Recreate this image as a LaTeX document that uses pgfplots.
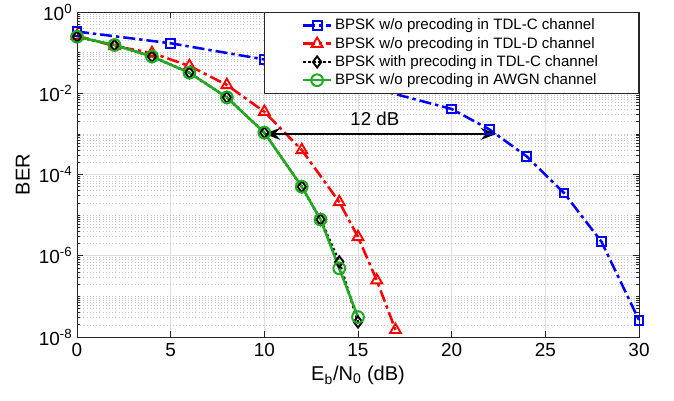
\documentclass[border=0pt]{standalone}
\usepackage{fontspec}
\setmainfont{Liberation Sans}
\usepackage{pgfplots}
\pgfplotsset{compat=1.18}
\usetikzlibrary{arrows.meta}

\definecolor{mgreen}{RGB}{32,170,32}
\definecolor{axgray}{RGB}{38,38,38}

\newcommand{\tfont}{\fontsize{14.2}{17}\selectfont}
\newcommand{\lfont}{\fontsize{15}{18}\selectfont}
\newcommand{\tenpow}[1]{10\textsuperscript{#1}}

\begin{document}
\begin{tikzpicture}
\useasboundingbox (-57.75pt,-47.25pt) rectangle (447.75pt,252.75pt);
\begin{semilogyaxis}[
    at={(0,0)}, anchor=south west,
    scale only axis,
    width=421.5pt, height=243.75pt,
    xmin=0, xmax=30,
    ymin=1e-8, ymax=1,
    xtick={0,5,...,30},
    ytick={1e-8,1e-6,1e-4,1e-2,1},
    yticklabels={\tenpow{-8},\tenpow{-6},\tenpow{-4},\tenpow{-2},\tenpow{0}},
    minor ytick={2e-8,3e-8,4e-8,5e-8,6e-8,7e-8,8e-8,9e-8,1e-7,
                 2e-7,3e-7,4e-7,5e-7,6e-7,7e-7,8e-7,9e-7,
                 2e-6,3e-6,4e-6,5e-6,6e-6,7e-6,8e-6,9e-6,1e-5,
                 2e-5,3e-5,4e-5,5e-5,6e-5,7e-5,8e-5,9e-5,
                 2e-4,3e-4,4e-4,5e-4,6e-4,7e-4,8e-4,9e-4,1e-3,
                 2e-3,3e-3,4e-3,5e-3,6e-3,7e-3,8e-3,9e-3,
                 2e-2,3e-2,4e-2,5e-2,6e-2,7e-2,8e-2,9e-2,1e-1,
                 2e-1,3e-1,4e-1,5e-1,6e-1,7e-1,8e-1,9e-1},
    /pgf/number format/assume math mode=true,
    tick label style={font=\tfont, text=black},
    xticklabel style={yshift=-1.5pt},
    label style={font=\lfont},
    xlabel={E\textsubscript{b}/N\textsubscript{0} (dB)},
    ylabel={BER},
    grid=both,
    major grid style={gray!25, line width=0.4pt},
    minor grid style={gray!45, dotted, line width=0.4pt},
    axis line style={axgray, line width=0.6pt},
    tick style={axgray, line width=0.5pt},
    major tick length=4.5pt,
    minor tick length=2.5pt,
    clip=false,
    legend style={
        at={(rel axis cs:1,1)}, anchor=north east,
        draw=axgray, line width=0.5pt, fill=white,
        font=\fontsize{11.3}{13}\selectfont,
        inner xsep=28.5pt, inner ysep=3pt,
        row sep=0pt,
        /tikz/every even column/.append style={column sep=2pt},
    },
    legend cell align=left,
    legend image code/.code={\draw[mark repeat=2,mark phase=2,#1] plot coordinates {(0pt,0pt) (10.5pt,0pt) (21pt,0pt)};},
]

% TDL-C, w/o precoding
\addplot[blue, line width=1.9pt, dash pattern=on 9pt off 3pt on 2.5pt off 3pt,
    mark=square, mark size=3.3pt, mark options={solid, line width=1.5pt}] coordinates {
    (0, 0.33) (5, 0.17) (10, 0.068) (20, 4.1e-3) (22, 1.3e-3)
    (24, 2.8e-4) (26, 3.5e-5) (28, 2.2e-6) (30, 2.6e-8)
};
\addlegendentry{BPSK w/o precoding in TDL-C channel}

% TDL-D, w/o precoding
\addplot[red, line width=1.9pt, dash pattern=on 9pt off 3pt on 2.5pt off 3pt,
    mark=triangle, mark size=4.7pt, mark options={solid, line width=1.4pt}] coordinates {
    (0, 0.26) (2, 0.145) (4, 0.098) (6, 0.047) (8, 0.016) (10, 3.5e-3)
    (12, 4.0e-4) (14, 2.1e-5) (15, 2.9e-6) (16, 2.5e-7) (17, 1.5e-8)
};
\addlegendentry{BPSK w/o precoding in TDL-D channel}

% TDL-C, with precoding
\addplot[black, line width=1.8pt, dotted,
    mark=diamond, mark size=4.2pt, mark options={solid, line width=1.4pt}] coordinates {
    (0, 0.246) (2, 0.154) (4, 0.080) (6, 0.032) (8, 7.9e-3) (10, 1.07e-3)
    (12, 5.0e-5) (13, 7.8e-6) (14, 7.1e-7) (15, 2.35e-8)
};
\addlegendentry{BPSK with precoding in TDL-C channel}

% AWGN
\addplot[mgreen, line width=1.9pt,
    mark=o, mark size=4.4pt, mark options={solid, line width=1.5pt}] coordinates {
    (0, 0.246) (2, 0.154) (4, 0.080) (6, 0.032) (8, 7.9e-3) (10, 1.07e-3)
    (12, 5.0e-5) (13, 7.8e-6) (14, 4.9e-7) (15, 3.1e-8)
};
\addlegendentry{BPSK w/o precoding in AWGN channel}

\draw[{Stealth[length=12pt,width=9pt,inset=4pt]}-{Stealth[length=12pt,width=9pt,inset=4pt]}, line width=1.1pt]
    (axis cs:10,1e-3) -- (axis cs:22.4,1e-3);
\node[font=\fontsize{14}{17}\selectfont] at (axis cs:15.9,2.3e-3) {12 dB};
\end{semilogyaxis}
\end{tikzpicture}
\end{document}
